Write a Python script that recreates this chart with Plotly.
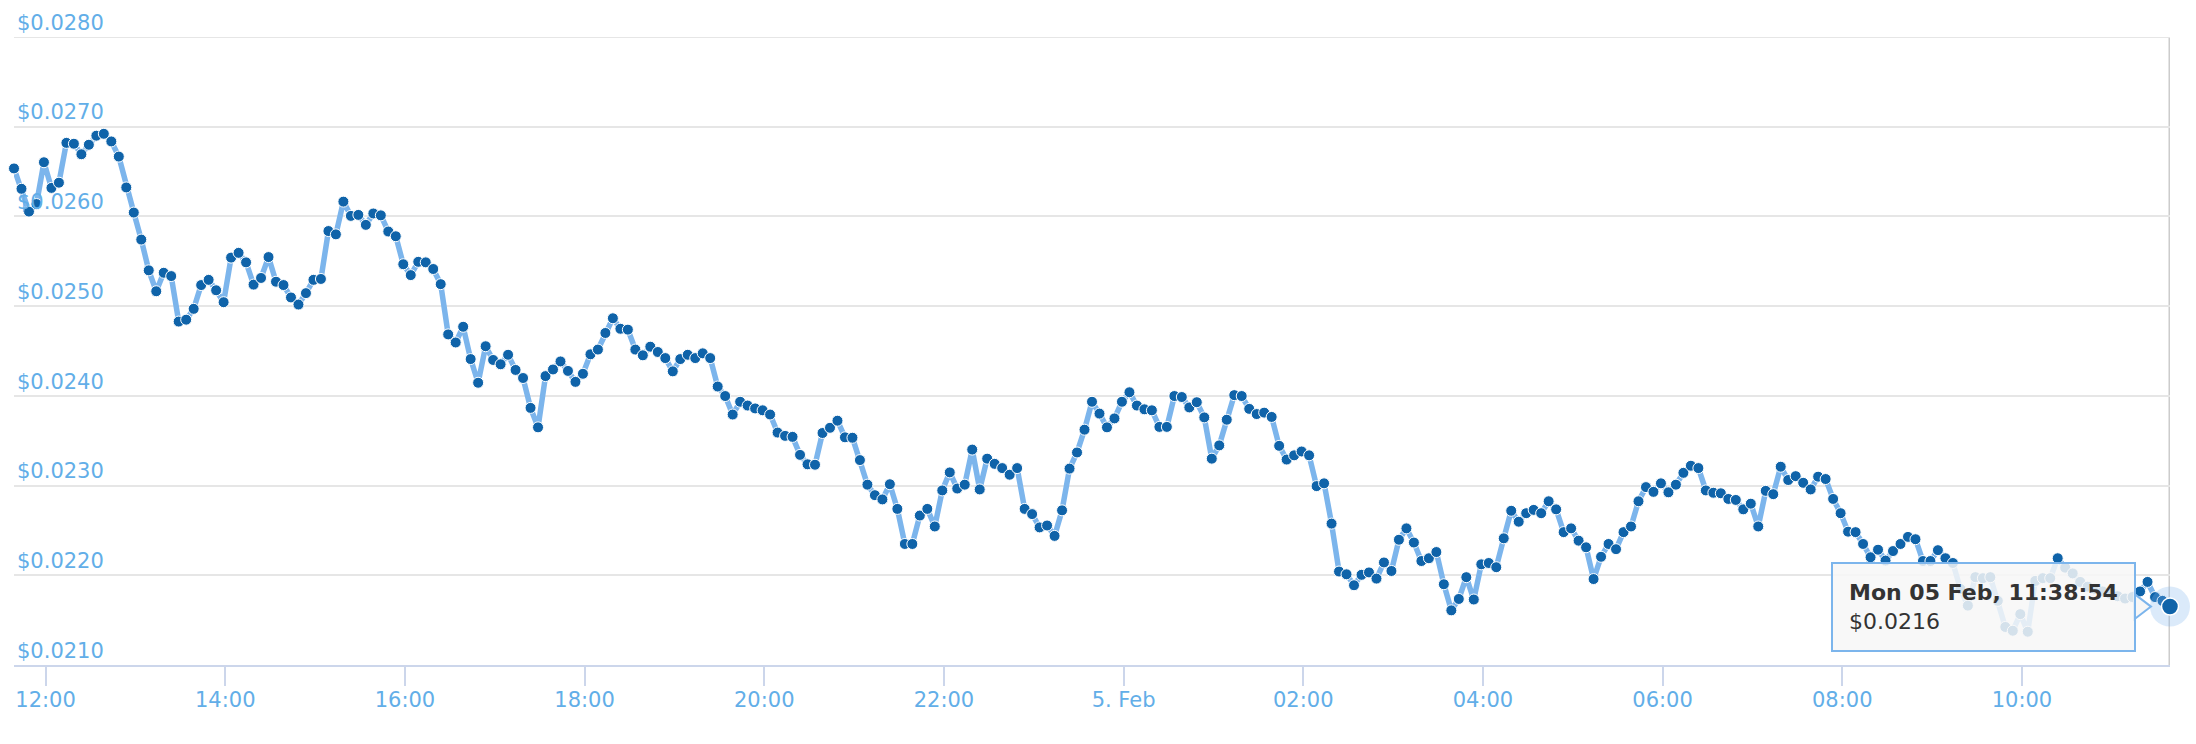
import pandas as pd
import plotly.graph_objects as go

# ---- data -------------------------------------------------------------
START = "2018-02-04 11:38:54"
END = "2018-02-05 11:38:54"
STEP = "5min"

prices = [
    0.026535, 0.026308, 0.026054, 0.026138, 0.026604, 0.026318, 0.026376, 0.026820, 0.026810, 0.026693,
    0.026799, 0.026900, 0.026921, 0.026836, 0.026667, 0.026323, 0.026043, 0.025742, 0.025399, 0.025166,
    0.025372, 0.025335, 0.024828, 0.024849, 0.024970, 0.025235, 0.025293, 0.025177, 0.025044, 0.025541,
    0.025594, 0.025488, 0.025240, 0.025314, 0.025547, 0.025272, 0.025235, 0.025097, 0.025018, 0.025145,
    0.025293, 0.025303, 0.025837, 0.025800, 0.026165, 0.026006, 0.026017, 0.025906, 0.026033, 0.026012,
    0.025832, 0.025779, 0.025467, 0.025346, 0.025494, 0.025488, 0.025414, 0.025245, 0.024685, 0.024595,
    0.024770, 0.024410, 0.024146, 0.024553, 0.024400, 0.024352, 0.024458, 0.024289, 0.024199, 0.023866,
    0.023649, 0.024220, 0.024294, 0.024384, 0.024278, 0.024156, 0.024246, 0.024463, 0.024516, 0.024701,
    0.024865, 0.024748, 0.024738, 0.024516, 0.024452, 0.024548, 0.024489, 0.024421, 0.024273, 0.024410,
    0.024458, 0.024421, 0.024474, 0.024421, 0.024104, 0.023998, 0.023792, 0.023934, 0.023892, 0.023860,
    0.023839, 0.023792, 0.023591, 0.023554, 0.023543, 0.023342, 0.023237, 0.023232, 0.023586, 0.023644,
    0.023723, 0.023538, 0.023533, 0.023284, 0.023010, 0.022893, 0.022846, 0.023015, 0.022740, 0.022349,
    0.022349, 0.022666, 0.022740, 0.022544, 0.022946, 0.023147, 0.022967, 0.023010, 0.023401, 0.022957,
    0.023300, 0.023242, 0.023195, 0.023121, 0.023195, 0.022740, 0.022682, 0.022534, 0.022555, 0.022439,
    0.022724, 0.023189, 0.023369, 0.023623, 0.023934, 0.023802, 0.023649, 0.023749, 0.023934, 0.024040,
    0.023892, 0.023850, 0.023839, 0.023654, 0.023654, 0.023998, 0.023987, 0.023871, 0.023929, 0.023760,
    0.023300, 0.023448, 0.023734, 0.024008, 0.023998, 0.023855, 0.023797, 0.023813, 0.023765, 0.023443,
    0.023290, 0.023337, 0.023380, 0.023337, 0.022994, 0.023025, 0.022576, 0.022042, 0.022011, 0.021889,
    0.022005, 0.022032, 0.021963, 0.022143, 0.022048, 0.022396, 0.022523, 0.022365, 0.022159, 0.022190,
    0.022259, 0.021900, 0.021609, 0.021736, 0.021979, 0.021730, 0.022122, 0.022137, 0.022090, 0.022412,
    0.022719, 0.022597, 0.022692, 0.022729, 0.022692, 0.022825, 0.022735, 0.022481, 0.022523, 0.022386,
    0.022312, 0.021958, 0.022206, 0.022349, 0.022291, 0.022481, 0.022544, 0.022825, 0.022983, 0.022930,
    0.023025, 0.022925, 0.023010, 0.023142, 0.023221, 0.023195, 0.022946, 0.022920, 0.022914, 0.022851,
    0.022840, 0.022735, 0.022798, 0.022544, 0.022941, 0.022904, 0.023210, 0.023062, 0.023105, 0.023031,
    0.022957, 0.023099, 0.023073, 0.022851, 0.022692, 0.022486, 0.022481, 0.022349, 0.022201, 0.022285,
    0.022164, 0.022270, 0.022349, 0.022428, 0.022402, 0.022159, 0.022159, 0.022280, 0.022190, 0.022137,
    0.021847, 0.021662, 0.021979, 0.021968, 0.021979, 0.021715, 0.021424, 0.021382, 0.021567, 0.021371,
    0.021937, 0.021968, 0.021968, 0.022190, 0.022085, 0.022021, 0.021926, 0.021873, 0.021847, 0.021820,
    0.021794, 0.021767, 0.021741, 0.021757, 0.021820, 0.021926, 0.021757, 0.021715, 0.021651,
]

tick_times = ["2018-02-04 12:00", "2018-02-04 14:00", "2018-02-04 16:00", "2018-02-04 18:00",
              "2018-02-04 20:00", "2018-02-04 22:00", "2018-02-05 00:00", "2018-02-05 02:00",
              "2018-02-05 04:00", "2018-02-05 06:00", "2018-02-05 08:00", "2018-02-05 10:00"]
tick_labels = ["12:00", "14:00", "16:00", "18:00", "20:00", "22:00", "5. Feb",
               "02:00", "04:00", "06:00", "08:00", "10:00"]
y_ticks = [0.021, 0.022, 0.023, 0.024, 0.025, 0.026, 0.027, 0.028]
Y_MIN, Y_MAX = 0.021, 0.028

tooltip_title = "Mon 05 Feb, 11:38:54"
tooltip_value = "$0.0216"

# ---- figure -----------------------------------------------------------
times = pd.date_range(START, END, freq=STEP)

LINE = "#7cb5ec"
MARK = "#0f63a9"
LABEL = "#62aee8"
FONT = "DejaVu Sans"

fig = go.Figure()
fig.add_trace(go.Scatter(
    x=times, y=prices, mode="lines+markers",
    line=dict(color=LINE, width=5.5),
    marker=dict(color=MARK, size=11, line=dict(color="white", width=1)),
    cliponaxis=False, hoverinfo="skip", showlegend=False,
))
# hovered last point: halo + enlarged marker
fig.add_trace(go.Scatter(
    x=[times[-1]], y=[prices[-1]], mode="markers",
    marker=dict(color="rgba(124,181,236,0.28)", size=40, line=dict(width=0)),
    cliponaxis=False, hoverinfo="skip", showlegend=False,
))
fig.add_trace(go.Scatter(
    x=[times[-1]], y=[prices[-1]], mode="markers",
    marker=dict(color=MARK, size=17, line=dict(color="white", width=1.5)),
    cliponaxis=False, hoverinfo="skip", showlegend=False,
))

# crosshair at hovered point
fig.add_shape(type="line", xref="x", yref="paper", x0=times[-1], x1=times[-1], y0=0, y1=1,
              line=dict(color="#cccccc", width=3), layer="below")
# top grid line
fig.add_shape(type="line", xref="paper", yref="y", x0=0, x1=1, y0=Y_MAX, y1=Y_MAX,
              line=dict(color="#e6e6e6", width=2), layer="below")

# tooltip callout notch
fig.add_shape(type="path", xref="x", yref="y", xsizemode="pixel", ysizemode="pixel",
              xanchor=times[-1], yanchor=prices[-1],
              path="M -36 13 L -19 0 L -36 -13 Z",
              fillcolor="rgb(247,247,247)", line=dict(color=LINE, width=2), layer="above")

# tooltip
fig.add_annotation(
    x=times[-1], y=prices[-1], xref="x", yref="y",
    xanchor="right", yanchor="middle", xshift=-34, yshift=0,
    text=f"<b>{tooltip_title}</b><br>{tooltip_value}",
    showarrow=False, align="left",
    font=dict(family=FONT, size=22, color="#333333"),
    bgcolor="rgba(247,247,247,0.85)", bordercolor=LINE, borderwidth=2, borderpad=16,
)

fig.update_layout(
    width=2196, height=744,
    margin=dict(l=14, r=26, t=37, b=79),
    paper_bgcolor="white", plot_bgcolor="white",
    font=dict(family=FONT, size=21, color=LABEL),
    xaxis=dict(
        type="date", range=[times[0], times[-1]],
        tickmode="array", tickvals=tick_times, ticktext=tick_labels,
        showgrid=False, zeroline=False,
        showline=True, linecolor="#ccd6eb", linewidth=2,
        ticks="outside", ticklen=19, tickwidth=2, tickcolor="#ccd6eb",
        ticklabeloverflow="allow", ticklabelstandoff=-4,
        tickfont=dict(family=FONT, size=21, color=LABEL),
    ),
    yaxis=dict(
        range=[Y_MIN, Y_MAX], tickmode="array", tickvals=y_ticks,
        tickformat="$.4f", showgrid=True, gridcolor="#e6e6e6", gridwidth=2,
        zeroline=False, showline=False, ticks="",
        ticklabelposition="inside top", ticklabeloverflow="allow",
        tickfont=dict(family=FONT, size=21, color=LABEL),
    ),
)

fig.write_html("out.html", config={"displayModeBar": False},
               post_script="document.body.style.margin='0';")
